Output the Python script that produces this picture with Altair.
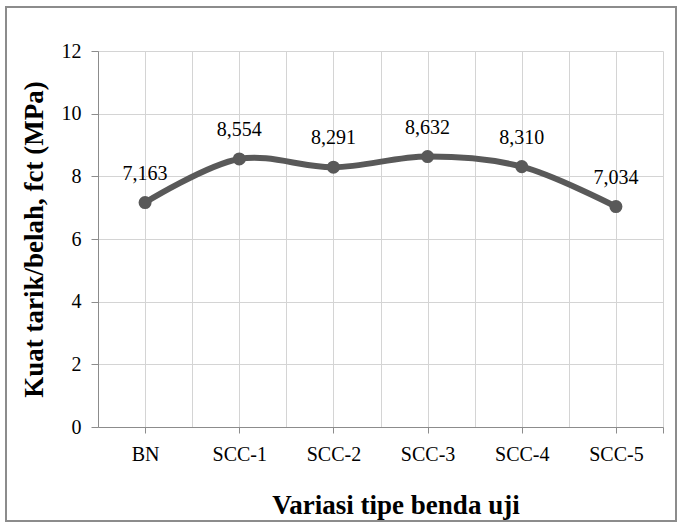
import altair as alt
import pandas as pd

categories = ["BN", "SCC-1", "SCC-2", "SCC-3", "SCC-4", "SCC-5"]
values = [7.163, 8.554, 8.291, 8.632, 8.310, 7.034]
y_ticks = [0, 2, 4, 6, 8, 10, 12]

df = pd.DataFrame({"idx": list(range(len(categories))), "cat": categories, "val": values})

W, H = 565, 376
FONT = "Liberation Serif"
LINE = "#595959"

label_expr = "isValid(" + str(categories) + "[datum.value]) && datum.value == floor(datum.value) ? " + str(categories) + "[datum.value] : ''"
grid_vals = [i * 0.5 - 0.5 for i in range(13)]
last_edge = len(categories) - 0.5

x_enc = alt.X(
    "idx:Q",
    scale=alt.Scale(domain=[-0.5, last_edge], nice=False, zero=False),
    axis=alt.Axis(
        values=grid_vals,
        labelExpr=label_expr,
        title="Variasi tipe benda uji",
        titleFont=FONT, titleFontSize=27, titleFontWeight="bold", titleColor="black",
        titleX=W / 2 + 15, titleAlign="center", titleBaseline="alphabetic",
        titleY=86,
        labelFont=FONT, labelFontSize=20, labelColor="black", labelPadding=11,
        gridColor="#d4d4d4", domainColor="#8c8c8c", tickColor="#8c8c8c",
        tickSize=6,
        tickOpacity={
            "condition": {
                "test": f"datum.value == floor(datum.value) || datum.value == {last_edge}",
                "value": 1,
            },
            "value": 0,
        },
    ),
)
y_enc = alt.Y(
    "val:Q",
    scale=alt.Scale(domain=[0, 12], nice=False),
    axis=alt.Axis(
        values=y_ticks,
        title="Kuat tarik/belah, fct (MPa)",
        titleFont=FONT, titleFontSize=27, titleFontWeight="bold", titleColor="black",
        titleX=-56, titleY=H / 2, titleAngle=270, titleAlign="center", titleBaseline="alphabetic",
        labelFont=FONT, labelFontSize=20, labelColor="black", labelPadding=10,
        gridColor="#d4d4d4", domainColor="#8c8c8c", tickColor="#8c8c8c",
        tickSize=7,
    ),
)

base = alt.Chart(df)
line = base.mark_line(color=LINE, strokeWidth=6, interpolate="catmull-rom").encode(x=x_enc, y=y_enc)
pts = base.mark_circle(color=LINE, size=170, opacity=1).encode(x="idx:Q", y="val:Q")
txt = base.transform_calculate(
    lab="replace(format(datum.val, '.3f'), '.', ',')"
).mark_text(font=FONT, fontSize=20, color="black", baseline="alphabetic", dy=-23).encode(
    x="idx:Q", y="val:Q", text="lab:N"
)
border = alt.Chart(pd.DataFrame({"a": [0]})).mark_rect(
    fill=None, stroke="#8c8c8c", strokeWidth=2, clip=False
).encode(
    x=alt.value(-92), x2=alt.value(W + 13), y=alt.value(-44), y2=alt.value(H + 94)
)

chart = alt.layer(border, line, pts, txt).properties(
    width=W, height=H,
    autosize=alt.AutoSizeParams(type="none"),
    padding={"left": 98, "top": 51, "right": 15, "bottom": 96},
    background="white",
).configure_view(stroke=None)

chart.save("out.html", embed_options={"renderer": "svg", "actions": False})
